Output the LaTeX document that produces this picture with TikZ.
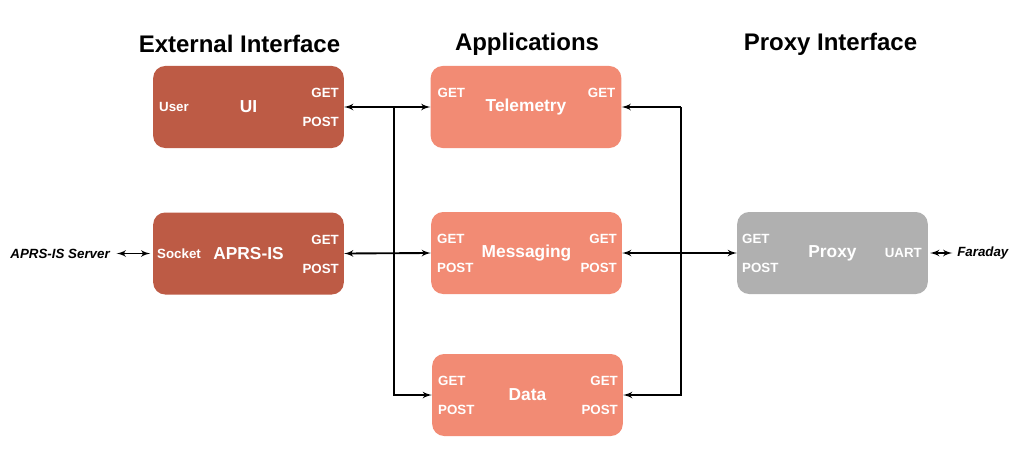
\documentclass[tikz,border=0pt]{standalone}
\usepackage{fontspec}
\setmainfont{Liberation Sans}
\usetikzlibrary{arrows}
\definecolor{extred}{HTML}{BD5B45}
\definecolor{appred}{HTML}{F28B74}
\definecolor{proxgray}{HTML}{B0B0B0}

\begin{document}
\begin{tikzpicture}[>=latex',x=0.75pt,y=-0.75pt]
  \tikzstyle{box}=[rectangle,rounded corners=9pt,minimum width=143pt,minimum height=61.5pt,text=white,font=\bfseries\fontsize{13}{15}\selectfont]
  \tikzstyle{ext}=[box,fill=extred]
  \tikzstyle{app}=[box,fill=appred]
  \tikzstyle{prox}=[box,fill=proxgray]
  \tikzstyle{port}=[text=white,inner sep=0pt,font=\bfseries\fontsize{10}{12}\selectfont]
  \tikzstyle{title}=[font=\bfseries\fontsize{18}{22}\selectfont]
  \tikzstyle{far}=[inner sep=0pt,font=\bfseries\itshape\fontsize{10}{12}\selectfont]
  \tikzstyle{link}=[line width=1.4pt]

\useasboundingbox (0,0) rectangle (1024,460);

\begin{scope}
\node [title] (textt) at (239.5,44) {External Interface};
\node [title] (tapp) at (527,44) {Applications};
\node [title] (tprox) at (830.5,44) {Proxy Interface};

\node [ext] (ui) at (248.5,107) {UI};
\node [port,anchor=west] (uiuser) at ([shift={(6,0)}]ui.west) {User};
\node [port,anchor=east] (uiget) at ([shift={(-5,-14)}]ui.east) {GET};
\node [port,anchor=east] (uipost) at ([shift={(-5,15)}]ui.east) {POST};

\node [ext] (aprs) at (248.5,253.5) {APRS-IS};
\node [port,anchor=west] (aprssock) at ([shift={(4,0)}]aprs.west) {Socket};
\node [port,anchor=east] (aprsget) at ([shift={(-5,-14)}]aprs.east) {GET};
\node [port,anchor=east] (aprspost) at ([shift={(-5,15)}]aprs.east) {POST};

\node [app] (tel) at (526,107) {Telemetry};
\node [port,anchor=west] (telgetl) at ([shift={(7,-14)}]tel.west) {GET};
\node [port,anchor=east] (telgetr) at ([shift={(-6,-14)}]tel.east) {GET};

\node [app] (msg) at (526.5,253) {Messaging};
\node [port,anchor=west] (msggetl) at ([shift={(6,-14)}]msg.west) {GET};
\node [port,anchor=west] (msgpostl) at ([shift={(6,15)}]msg.west) {POST};
\node [port,anchor=east] (msggetr) at ([shift={(-5,-14)}]msg.east) {GET};
\node [port,anchor=east] (msgpostr) at ([shift={(-5,15)}]msg.east) {POST};

\node [app] (data) at (527.5,395) {Data};
\node [port,anchor=west] (datagetl) at ([shift={(6,-14)}]data.west) {GET};
\node [port,anchor=west] (datapostl) at ([shift={(6,15)}]data.west) {POST};
\node [port,anchor=east] (datagetr) at ([shift={(-5,-14)}]data.east) {GET};
\node [port,anchor=east] (datapostr) at ([shift={(-5,15)}]data.east) {POST};

\node [prox] (proxy) at (832.5,253) {Proxy};
\node [port,anchor=west] (proxget) at ([shift={(5,-14)}]proxy.west) {GET};
\node [port,anchor=west] (proxpost) at ([shift={(5,15)}]proxy.west) {POST};
\node [port,anchor=east] (proxuart) at ([shift={(-6,0)}]proxy.east) {UART};

\node [far,anchor=east] (srv) at (110,253.5) {APRS-IS Server};
\node [far,anchor=west] (faraday) at (957,253) {Faraday};
\end{scope}

\coordinate (jl) at (394,107);
\coordinate (jr) at (681,107);

\draw [link,<->] (ui.east) -- (tel.west);
\draw [link,->] (jl) |- (data.west);
\draw [link,<->] (aprs.east) -- (msg.west);

\draw [link,->] (jr) -- (tel.east);
\draw [link,->] (jr) |- (data.east);
\draw [link,<->] (msg.east) -- (proxy.west);

\draw [link,<->,shorten <=5pt,shorten >=2pt] (srv) -- (aprs.west);
\draw [link,<->,shorten <=1.5pt,shorten >=3.5pt] (proxy.east) -- (faraday);
\end{tikzpicture}
\end{document}
